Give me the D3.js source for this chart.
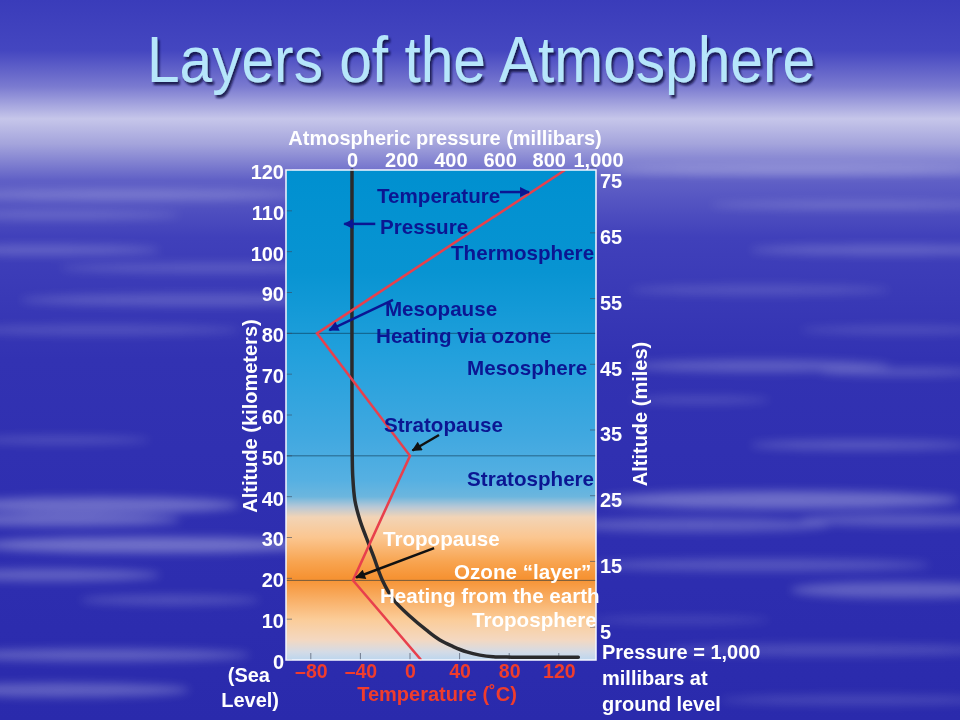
<!DOCTYPE html>
<html><head><meta charset="utf-8">
<script src="https://cdn.jsdelivr.net/npm/d3@7"></script>
<style>html,body{margin:0;padding:0;background:#3434b4;overflow:hidden}svg{display:block}</style>
</head><body>
<script>
// ---------------- data ----------------
const altitudeTicksKm = [0,10,20,30,40,50,60,70,80,90,100,110,120];
const altitudeTicksMi = [5,15,25,35,45,55,65,75];
const temperatureTicks = [-80,-40,0,40,80,120];
const pressureTicks = [0,200,400,600,800,1000];
// temperature profile: [°C, km]
const temperatureProfile = [[9,0],[-46,19.5],[0,50],[-75,80],[125,120]];
// pressure profile: [mb, km]
const pressureProfile = [[0,120],[0,60],[1,50],[3,45],[12,39],[32,34.3],[58,30],[88,25.3],[123,19.6],[170,14.7],[238,10.6],[303,7.3],[357,4.9],[411,3.3],[466,2.0],[520,1.2],[574,0.8],[650,0.7],[920,0.7]];
// layer boundaries (km)
const boundaries = [19.5, 50, 80];
// annotations: text, anchor [°C, km]
const blueLabels = [
  ["Temperature",[-26.6,111.9]],["Pressure",[-24.2,104.3]],["Thermosphere",[33.1,98.0]],
  ["Mesopause",[-20.2,84.2]],["Heating via ozone",[-27.4,77.6]],["Mesosphere",[46,69.8]],
  ["Stratopause",[-21,55.8]],["Stratosphere",[46,42.6]]
];
const whiteLabels = [
  ["Tropopause",[-21.8,27.9]],["Ozone \u201clayer\u201d",[35.5,19.8]],
  ["Heating from the earth",[-24.2,14.0]],["Troposphere",[50,8.0]]
];
// arrows: from [°C,km] to [°C,km], kind
const arrows = [
  [[72.6,114.6],[96,114.6],"navy"],
  [[-28,106.8],[-53,106.8],"navy"],
  [[-13.7,88.2],[-65,80.8],"navy"],
  [[23.4,55.1],[2,51.3],"black"],
  [[19.4,27.4],[-43.5,20.2],"black"]
];

// ---------------- layout ----------------
const W=960,H=720;
const X0=286,X1=596,Y0=170,Y1=660;
const FONT='"Liberation Sans", Arial, sans-serif';
const NAVY='#0b1692', RED='#f03c2c';

const svg=d3.select('body').append('svg').attr('width',W).attr('height',H);
const defs=svg.append('defs');

// background
const bg=defs.append('linearGradient').attr('id','bgGrad').attr('x1',0).attr('y1',0).attr('x2',0).attr('y2',1);
[[0,'#3a3cba'],[0.07,'#4446c0'],[0.12,'#7a7ad0'],[0.165,'#c6c6ea'],[0.2,'#a4a4dc'],[0.25,'#6060c6'],[0.33,'#4040ba'],[0.5,'#3232b2'],[0.75,'#2e2eb0'],[1,'#2a2aac']]
  .forEach(s=>bg.append('stop').attr('offset',s[0]).attr('stop-color',s[1]));
svg.append('rect').attr('width',W).attr('height',H).attr('fill','url(#bgGrad)');
defs.append('filter').attr('id','blur').attr('x','-50%').attr('y','-50%').attr('width','200%').attr('height','200%')
  .append('feGaussianBlur').attr('stdDeviation',5);
const clouds=[
 [130,195,170,5,0.22],[60,215,120,4,0.18],[40,250,120,5,0.2],[220,268,160,5,0.16],[200,300,180,6,0.18],[100,330,140,5,0.15],
 [800,170,190,5,0.22],[860,205,150,4,0.18],[890,250,140,5,0.2],[760,290,130,5,0.14],[900,330,100,4,0.14],
 [60,440,90,4,0.16],[100,505,140,8,0.3],[60,520,120,6,0.3],[150,545,170,8,0.32],[50,575,110,6,0.26],[170,600,90,5,0.18],
 [760,366,130,6,0.22],[900,372,80,4,0.2],[700,400,70,4,0.15],[860,445,110,5,0.2],
 [780,500,180,9,0.3],[700,525,130,7,0.22],[900,520,100,6,0.22],[760,565,170,6,0.2],[900,590,110,8,0.25],
 [100,655,150,6,0.26],[60,690,130,7,0.26],[830,650,170,6,0.16],[860,700,140,5,0.14],[680,620,90,4,0.12]];
svg.append('g').attr('filter','url(#blur)').selectAll('ellipse').data(clouds).join('ellipse')
  .attr('cx',d=>d[0]).attr('cy',d=>d[1]).attr('rx',d=>d[2]).attr('ry',d=>d[3]).attr('fill','#fff').attr('opacity',d=>d[4]);

// title
const sh=defs.append('filter').attr('id','shadow').attr('x','-10%').attr('y','-20%').attr('width','120%').attr('height','150%');
sh.append('feDropShadow').attr('dx',2).attr('dy',3).attr('stdDeviation',1.2).attr('flood-color','#0c0c40').attr('flood-opacity',0.85);
svg.append('text').attr('x',481).attr('y',82).attr('text-anchor','middle')
  .attr('font-family',FONT).attr('font-size',64).attr('fill','#b6e6fb').attr('filter','url(#shadow)')
  .attr('textLength',668).attr('lengthAdjust','spacingAndGlyphs').text('Layers of the Atmosphere');

// scales
const yKm=d3.scaleLinear().domain([0,120]).range([Y1,Y0]);
const yMi=d3.scaleLinear().domain([0,120/1.609344]).range([Y1,Y0]);
const xT=d3.scaleLinear().domain([-100,150]).range([X0,X1]);
const xP=d3.scaleLinear().domain([0,1000]).range([352,598]);

// plot background gradient
const pg=defs.append('linearGradient').attr('id','plotGrad').attr('gradientUnits','userSpaceOnUse')
  .attr('x1',0).attr('y1',Y0).attr('x2',0).attr('y2',Y1);
[[120,'#0090d0'],[95,'#0894d2'],[75,'#22a0dc'],[55,'#40a8e0'],[44,'#56b0e2'],[40,'#6cb6de'],[37.5,'#b8c8d6'],[35,'#f2d4b6'],[30,'#fbc690'],[24,'#f8a450'],[20,'#f69232'],[16,'#f8a85a'],[10,'#fbcc98'],[5,'#f4d8c0'],[2,'#d4dbe6'],[0,'#bcd6ee']]
  .forEach(s=>pg.append('stop').attr('offset',(yKm(s[0])-Y0)/(Y1-Y0)).attr('stop-color',s[1]));
svg.append('rect').attr('x',X0).attr('y',Y0).attr('width',X1-X0).attr('height',Y1-Y0).attr('fill','url(#plotGrad)');

const plot=svg.append('g');
// boundaries
plot.selectAll('line.bd').data(boundaries).join('line').attr('class','bd')
  .attr('x1',X0).attr('x2',X1).attr('y1',d=>yKm(d)).attr('y2',d=>yKm(d))
  .attr('stroke','#0a2a40').attr('stroke-opacity',0.55).attr('stroke-width',1);
// inner ticks
plot.selectAll('line.lt').data(altitudeTicksKm).join('line').attr('x1',X0).attr('x2',X0+6)
  .attr('y1',d=>yKm(d)).attr('y2',d=>yKm(d)).attr('stroke','#3a4a60').attr('stroke-opacity',0.6);
plot.selectAll('line.rt').data(altitudeTicksMi).join('line').attr('x1',X1-6).attr('x2',X1)
  .attr('y1',d=>yMi(d)).attr('y2',d=>yMi(d)).attr('stroke','#3a4a60').attr('stroke-opacity',0.6);
plot.selectAll('line.bt').data(temperatureTicks).join('line').attr('x1',d=>xT(d)).attr('x2',d=>xT(d))
  .attr('y1',Y1-7).attr('y2',Y1).attr('stroke','#4a5468').attr('stroke-opacity',0.7);

// pressure curve
plot.append('path').datum(pressureProfile)
  .attr('d',d3.line().x(d=>xP(d[0])).y(d=>yKm(d[1])).curve(d3.curveCatmullRom.alpha(0.5)))
  .attr('fill','none').attr('stroke','#2a2a2c').attr('stroke-width',3.5).attr('stroke-linecap','round');
// temperature line
plot.append('path').datum(temperatureProfile)
  .attr('d',d3.line().x(d=>xT(d[0])).y(d=>yKm(d[1])))
  .attr('fill','none').attr('stroke','#e8404c').attr('stroke-width',2.5).attr('stroke-linejoin','miter');

// border
svg.append('rect').attr('x',X0).attr('y',Y0).attr('width',X1-X0).attr('height',Y1-Y0)
  .attr('fill','none').attr('stroke','#f4f6ff').attr('stroke-width',1.5);

// arrow markers
[['navy',NAVY],['black','#111']].forEach(([id,c])=>{
  defs.append('marker').attr('id','ah-'+id).attr('viewBox','0 0 10 10').attr('refX',9).attr('refY',5)
    .attr('markerUnits','userSpaceOnUse').attr('markerWidth',12).attr('markerHeight',10).attr('orient','auto')
    .append('path').attr('d','M0,0 L10,5 L0,10 z').attr('fill',c);
});
plot.selectAll('line.arr').data(arrows).join('line')
  .attr('x1',d=>xT(d[0][0])).attr('y1',d=>yKm(d[0][1])).attr('x2',d=>xT(d[1][0])).attr('y2',d=>yKm(d[1][1]))
  .attr('stroke',d=>d[2]==='navy'?NAVY:'#111').attr('stroke-width',2.5)
  .attr('marker-end',d=>'url(#ah-'+d[2]+')');

// annotations
function labels(data,color){
  plot.selectAll(null).data(data).join('text')
    .attr('x',d=>xT(d[1][0])).attr('y',d=>yKm(d[1][1]))
    .attr('font-family',FONT).attr('font-weight','bold').attr('font-size',20.6).attr('fill',color)
    .text(d=>d[0]);
}
labels(blueLabels,NAVY);
labels(whiteLabels,'#ffffff');

// axes
function styleAxis(g,color,size){
  g.select('.domain').remove();
  g.selectAll('.tick line').remove();
  g.selectAll('text').attr('font-family',FONT).attr('font-weight','bold').attr('font-size',size||20).attr('fill',color);
}
svg.append('g').attr('transform',`translate(0,${Y0-3})`)
  .call(d3.axisTop(xP).tickValues(pressureTicks).tickFormat(d3.format(',')).tickSize(0).tickPadding(0))
  .call(g=>styleAxis(g,'#fff'));
svg.append('g').attr('transform',`translate(${X0-2},0)`)
  .call(d3.axisLeft(yKm).tickValues(altitudeTicksKm).tickSize(0).tickPadding(0))
  .call(g=>styleAxis(g,'#fff')).call(g=>g.selectAll('text').attr('dy','0.42em'));
svg.append('g').attr('transform',`translate(${X1+4},0)`)
  .call(d3.axisRight(yMi).tickValues(altitudeTicksMi).tickSize(0).tickPadding(0))
  .call(g=>styleAxis(g,'#fff'))
  .call(g=>g.selectAll('text').attr('dy','0.55em').attr('y',d=>Math.max(0,177-yMi(d))));
svg.append('g').attr('transform',`translate(0,${Y1+4})`)
  .call(d3.axisBottom(xT).tickValues(temperatureTicks).tickFormat(d=>d<0?'\u2013'+Math.abs(d):d).tickSize(0).tickPadding(0))
  .call(g=>styleAxis(g,RED,19.5));

// axis titles
function txt(x,y,s,opts={}){
  const t=svg.append('text').attr('x',x).attr('y',y).attr('font-family',FONT).attr('font-weight','bold')
    .attr('font-size',opts.size||20).attr('fill',opts.fill||'#fff').attr('text-anchor',opts.anchor||'start').text(s);
  if(opts.rotate) t.attr('transform',`rotate(-90,${x},${y})`);
  return t;
}
txt(445,145,'Atmospheric pressure (millibars)',{anchor:'middle'});
txt(437,701,'Temperature (\u02daC)',{anchor:'middle',fill:RED});
txt(257,416,'Altitude (kilometers)',{anchor:'middle',rotate:true});
txt(647,414,'Altitude (miles)',{anchor:'middle',rotate:true});
txt(270,682,'(Sea',{anchor:'end'});
txt(279,707,'Level)',{anchor:'end'});
txt(602,659,'Pressure = 1,000');
txt(602,685,'millibars at');
txt(602,711,'ground level');
</script>
</body></html>
